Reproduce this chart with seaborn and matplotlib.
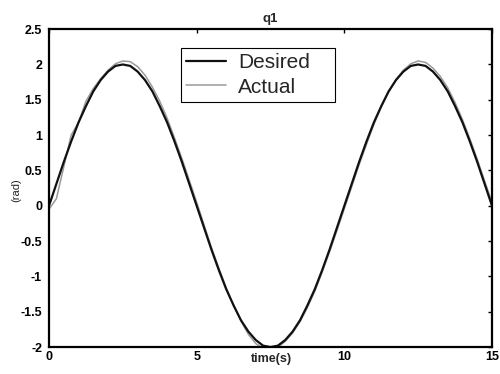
import numpy as np
import pandas as pd
import matplotlib
matplotlib.use("Agg")
import matplotlib.pyplot as plt
import seaborn as sns
from matplotlib.lines import Line2D

# time axis (s)
time_s = [i * 0.25 for i in range(61)]

# desired trajectory (rad)
desired = [
    0.00, 0.31, 0.62, 0.91, 1.18, 1.41, 1.62, 1.78, 1.90, 1.98,
    2.00, 1.98, 1.90, 1.78, 1.62, 1.41, 1.18, 0.91, 0.62, 0.31,
    0.00, -0.31, -0.62, -0.91, -1.18, -1.41, -1.62, -1.78, -1.90, -1.98,
    -2.00, -1.98, -1.90, -1.78, -1.62, -1.41, -1.18, -0.91, -0.62, -0.31,
    0.00, 0.31, 0.62, 0.91, 1.18, 1.41, 1.62, 1.78, 1.90, 1.98,
    2.00, 1.98, 1.90, 1.78, 1.62, 1.41, 1.18, 0.91, 0.62, 0.31,
    0.00,
]

# actual trajectory (rad)
actual = [
    -0.05, 0.10, 0.55, 1.00, 1.18, 1.48, 1.66, 1.80, 1.92, 2.01,
    2.05, 2.04, 1.97, 1.85, 1.68, 1.48, 1.24, 0.96, 0.67, 0.36,
    0.05, -0.27, -0.59, -0.88, -1.16, -1.41, -1.63, -1.82, -1.95, -2.02,
    -2.03, -2.00, -1.92, -1.80, -1.64, -1.44, -1.21, -0.94, -0.65, -0.35,
    -0.04, 0.27, 0.58, 0.87, 1.15, 1.40, 1.61, 1.79, 1.92, 2.01,
    2.05, 2.03, 1.95, 1.83, 1.67, 1.46, 1.22, 0.95, 0.66, 0.35,
    0.05,
]

series_names = ["Desired", "Actual"]
x_ticks = [0, 5, 10, 15]
y_ticks = [-2, -1.5, -1, -0.5, 0, 0.5, 1, 1.5, 2, 2.5]
y_tick_labels = ["-2", "-1.5", "-1", "-0.5", "0", "0.5", "1", "1.5", "2", "2.5"]

df = pd.DataFrame({
    "time": time_s * 2,
    "value": desired + actual,
    "series": [series_names[0]] * len(time_s) + [series_names[1]] * len(time_s),
})

sns.set_style("white")
plt.rcParams["font.family"] = ["Liberation Sans", "DejaVu Sans"]

fig = plt.figure(figsize=(5.0, 3.74), dpi=100)
ax = fig.add_axes([0.098, 0.072, 0.886, 0.850])

sns.lineplot(data=df, x="time", y="value", hue="series",
             palette={"Desired": "#111111", "Actual": "#9a9a9a"},
             size="series", sizes={"Desired": 1.6, "Actual": 1.1},
             hue_order=series_names[::-1], size_order=series_names[::-1],
             ax=ax, legend=False, sort=False)

ax.set_xlim(0, 15)
ax.set_ylim(-2, 2.5)
ax.set_xticks(x_ticks)
ax.set_xticklabels([str(t) for t in x_ticks], fontweight="bold")
ax.set_yticks(y_ticks)
ax.set_yticklabels(y_tick_labels, fontweight="bold")

ax.tick_params(axis="both", direction="in", length=3, width=1.0,
               top=True, right=True, labelsize=9, colors="black")
ax.tick_params(axis="y", pad=5)
ax.tick_params(axis="x", pad=3)
for sp in ax.spines.values():
    sp.set_visible(True)
    sp.set_color("black")
    sp.set_linewidth(1.6)

ax.set_title("q1", fontsize=9.5, fontweight="bold", pad=5)
ax.set_xlabel("time(s)", fontsize=9, fontweight="bold")
ax.xaxis.set_label_coords(0.503, -0.018)
ax.set_ylabel("(rad)", fontsize=8)
ax.yaxis.set_label_coords(-0.062, 0.494)

handles = [Line2D([0], [0], color="#111111", lw=1.6),
           Line2D([0], [0], color="#9a9a9a", lw=1.1)]
leg = ax.legend(handles, series_names, loc="upper left",
                bbox_to_anchor=(0.298, 0.74, 0.348, 0.2), mode="expand",
                borderaxespad=0,
                fontsize=15, frameon=True, fancybox=False, framealpha=1,
                edgecolor="black", handlelength=1.9, handletextpad=0.6,
                borderpad=0.25, labelspacing=0.25)
leg.get_frame().set_linewidth(0.8)

fig.savefig("out.png", dpi=100)
